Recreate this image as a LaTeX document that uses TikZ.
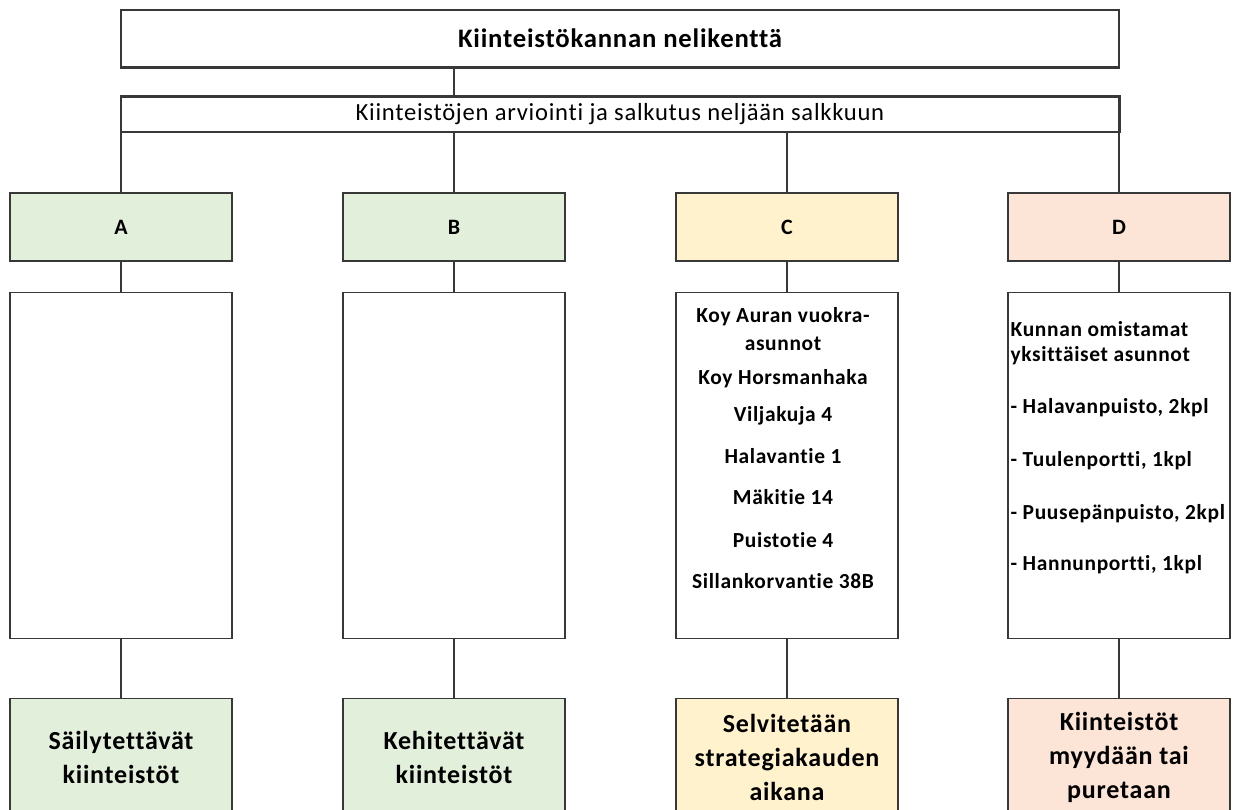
\documentclass[tikz,border=0pt]{standalone}
\usepackage{fontspec}
\setmainfont{Carlito}[Ligatures=NoCommon, LetterSpace=3]
\usetikzlibrary{positioning, calc}

\definecolor{grpGreen}{HTML}{E2EFDA}
\definecolor{grpYellow}{HTML}{FFF2CC}
\definecolor{grpRed}{HTML}{FCE4D6}
\definecolor{edgeGray}{HTML}{383838}

\begin{document}
\begin{tikzpicture}[x=0.02cm, y=-0.02cm,
	box/.style={draw=edgeGray, line width=0.8pt, inner sep=0pt, text=black},
	hdr/.style={box, minimum width=4.44cm, minimum height=1.36cm, font=\fontsize{12.5}{15}\selectfont\bfseries},
	body/.style={box, fill=white, minimum width=4.44cm, minimum height=6.92cm},
	res/.style={box, minimum width=4.44cm, minimum height=2.36cm, align=center, font=\fontsize{14.8}{19.4}\selectfont\bfseries},
	list/.style={inner sep=0pt, font=\bfseries},
	link/.style={draw=edgeGray, line width=0.8pt}]
	
	% --- 1. CANVAS ---
	\useasboundingbox (0,0) rectangle (1236,810);
	\clip (0,0) rectangle (1236,810);
	
	% --- 2. TOP BOXES ---
	\node[box, minimum width=19.96cm, minimum height=1.14cm, font=\fontsize{15.2}{17}\selectfont\bfseries] (title) at (620,38.5) {Kiinteistökannan nelikenttä};
	\node[box, minimum width=19.96cm, minimum height=0.70cm, font=\fontsize{14}{15}\selectfont] (sub) at (620,114.5) {Kiinteistöjen arviointi ja salkutus neljään salkkuun};
	
	% heavier edges between the two top boxes
	\draw[edgeGray, line width=1.7pt] (title.south west) -- (title.south east);
	\draw[edgeGray, line width=1.7pt] (sub.north west) -- (sub.north east) -- (sub.south east);
	
	% --- 3. FOUR PORTFOLIOS ---
	\node[hdr, fill=grpGreen] (hA) at (121,227) {A};
	\node[hdr, fill=grpGreen] (hB) at (454,227) {B};
	\node[hdr, fill=grpYellow] (hC) at (787,227) {C};
	\node[hdr, fill=grpRed] (hD) at (1119,227) {D};
	
	% content boxes
	\node[body, below=0.6cm of hA] (bA) {};
	\node[body, below=0.6cm of hB] (bB) {};
	\node[body, below=0.6cm of hC] (bC) {};
	\node[body, below=0.6cm of hD] (bD) {};
	
	% result boxes (cut by the lower edge)
	\node[res, fill=grpGreen, below=1.18cm of bA] (rA) {Säilytettävät\\kiinteistöt};
	\node[res, fill=grpGreen, below=1.18cm of bB] (rB) {Kehitettävät\\kiinteistöt};
	\node[res, fill=grpYellow, below=1.18cm of bC] (rC) {Selvitetään\\strategiakauden\\aikana};
	\node[res, fill=grpRed, below=1.18cm of bD] (rD) {Kiinteistöt\\myydään tai\\puretaan};
	
	% --- 4. LISTS IN C AND D ---
	\node[list, anchor=north, align=center, font=\fontsize{12.2}{15.9}\selectfont\bfseries] (cList) at ($(bC.north)+(-4,15)$) {%
		Koy Auran vuokra-\\asunnot\\[3.9pt]
		Koy Horsmanhaka\\[5.1pt]
		Viljakuja 4\\[7.9pt]
		Halavantie 1\\[7.3pt]
		Mäkitie 14\\[8.5pt]
		Puistotie 4\\[7.9pt]
		Sillankorvantie 38B};
	\node[list, anchor=north west, align=left, font=\fontsize{12.2}{14.7}\selectfont\bfseries] (dList) at ($(bD.north west)+(3,29)$) {%
		Kunnan omistamat\\yksittäiset asunnot\\[14.8pt]
		- Halavanpuisto, 2kpl\\[15.3pt]
		- Tuulenportti, 1kpl\\[15.3pt]
		- Puusepänpuisto, 2kpl\\[14.8pt]
		- Hannunportti, 1kpl};
	
	% --- 5. CONNECTORS ---
	\draw[link] (title.south -| hB.north) -- (sub.north -| hB.north);
	
	\draw[link] (sub.south -| hA.north) -- (hA.north);
	\draw[link] (sub.south -| hB.north) -- (hB.north);
	\draw[link] (sub.south -| hC.north) -- (hC.north);
	\draw[link] (sub.south -| hD.north) -- (hD.north);
	
	\draw[link] (hA) -- (bA);
	\draw[link] (hB) -- (bB);
	\draw[link] (hC) -- (bC);
	\draw[link] (hD) -- (bD);
	
	\draw[link] (bA) -- (rA);
	\draw[link] (bB) -- (rB);
	\draw[link] (bC) -- (rC);
	\draw[link] (bD) -- (rD);
	
\end{tikzpicture}
\end{document}
